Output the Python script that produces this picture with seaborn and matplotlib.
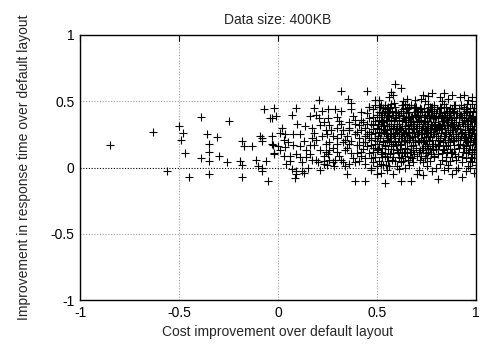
import matplotlib
matplotlib.use("Agg")
import matplotlib.pyplot as plt
import seaborn as sns
import pandas as pd

title = "Data size: 400KB"
x_label = "Cost improvement over default layout"
y_label = "Improvement in response time over default layout"
x_ticks = [-1, -0.5, 0, 0.5, 1]
x_tick_labels = ["-1", "-0.5", "0", "0.5", "1"]
y_ticks = [-1, -0.5, 0, 0.5, 1]
y_tick_labels = ["-1", "-0.5", "0", "0.5", "1"]

pts_negative = [(-0.85, 0.17), (-0.63, 0.27), (-0.56, -0.03), (-0.50, 0.31), (-0.48, 0.26), (-0.49, 0.21),
                (-0.47, 0.11), (-0.45, -0.07), (-0.39, 0.38), (-0.36, 0.25), (-0.35, 0.18), (-0.35, 0.12),
                (-0.39, 0.07), (-0.35, 0.05), (-0.35, -0.05), (-0.31, 0.23), (-0.30, 0.09), (-0.26, 0.04),
                (-0.25, 0.35), (-0.19, 0.05), (-0.18, 0.02), (-0.18, -0.07), (-0.18, 0.20), (-0.17, 0.16),
                (-0.13, 0.16), (-0.11, 0.06), (-0.10, 0.01), (-0.08, 0.00), (-0.08, -0.03), (-0.05, -0.10),
                (-0.09, 0.24), (-0.08, 0.22), (-0.08, 0.20), (-0.07, 0.44), (-0.02, 0.45), (-0.04, 0.37),
                (-0.03, 0.24), (-0.03, 0.18), (-0.01, 0.39), (-0.06, 0.05), (-0.02, 0.11), (-0.03, 0.37),
                (-0.027, 0.17)]

pts_low = [(0.09, 0.45), (0.07, 0.40), (0.205, 0.51), (0.18, 0.45), (0.22, 0.43), (0.25, 0.44), (0.16, 0.39),
           (0.205, 0.37), (0.23, 0.34), (0.094, 0.33), (0.136, 0.31), (0.17, 0.30), (0.21, 0.32), (0.18, 0.26),
           (0.17, 0.22), (0.01, 0.26), (0.036, 0.25), (0.075, 0.25), (0.03, 0.21), (0.002, 0.16), (0.035, 0.155),
           (0.075, 0.17), (0.11, 0.16), (0.16, 0.17), (0.18, 0.17), (0.21, 0.13), (0.24, 0.12), (-0.02, 0.10),
           (0.03, 0.09), (0.06, 0.09), (0.09, 0.10), (0.11, 0.08), (0.14, 0.08), (0.16, 0.10), (0.23, 0.09),
           (0.25, 0.10), (0.06, 0.05), (0.12, 0.04), (0.20, 0.04), (0.23, 0.03), (0.09, -0.03), (0.12, -0.03),
           (0.09, -0.05), (0.085, -0.08), (0.13, -0.04), (0.07, -0.01), (0.02, 0.30), (0.05, 0.19), (0.13, 0.20),
           (0.19, 0.21), (0.22, 0.24), (0.14, 0.13), (0.19, 0.06), (0.24, 0.18), (0.01, 0.13), (0.04, 0.03),
           (0.15, 0.00), (0.21, -0.02), (0.17, 0.06), (0.11, 0.25), (0.24, 0.28), (0.19, 0.40), (0.23, 0.05)]

pts_mid = [(0.32, 0.58), (0.45, 0.58), (0.355, 0.52), (0.37, 0.49), (0.49, 0.51), (0.51, 0.51), (0.29, 0.44),
           (0.32, 0.43), (0.37, 0.44), (0.46, 0.46), (0.51, 0.46), (0.255, 0.375), (0.30, 0.38), (0.38, 0.39),
           (0.42, 0.36), (0.46, 0.37), (0.26, 0.32), (0.30, 0.30), (0.32, 0.33), (0.36, 0.30), (0.39, 0.33),
           (0.41, 0.32), (0.45, 0.33), (0.48, 0.32), (0.245, 0.25), (0.28, 0.24), (0.32, 0.25), (0.35, 0.24),
           (0.39, 0.25), (0.41, 0.22), (0.44, 0.24), (0.47, 0.25), (0.49, 0.22), (0.26, 0.19), (0.30, 0.18),
           (0.33, 0.19), (0.36, 0.18), (0.40, 0.17), (0.43, 0.19), (0.47, 0.17), (0.49, 0.18), (0.26, 0.13),
           (0.30, 0.12), (0.34, 0.13), (0.37, 0.11), (0.42, 0.12), (0.46, 0.11), (0.48, 0.12), (0.245, 0.02),
           (0.28, 0.04), (0.33, 0.04), (0.36, 0.03), (0.39, 0.04), (0.44, 0.03), (0.48, 0.04), (0.285, 0.01),
           (0.35, -0.05), (0.39, -0.10), (0.44, -0.10), (0.47, -0.02), (0.50, -0.05), (0.42, 0.09), (0.31, 0.09),
           (0.42, 0.28), (0.44, 0.30), (0.46, 0.27), (0.47, 0.21), (0.48, 0.29), (0.49, 0.35), (0.50, 0.40),
           (0.45, 0.41), (0.43, 0.14), (0.45, 0.16), (0.47, 0.07), (0.48, 0.15), (0.49, 0.26), (0.50, 0.30),
           (0.50, 0.13), (0.46, 0.22), (0.44, 0.19), (0.41, 0.05), (0.38, 0.07), (0.35, 0.15), (0.33, 0.28),
           (0.31, 0.35), (0.28, 0.15), (0.27, 0.28), (0.29, 0.06), (0.34, 0.01), (0.37, 0.20), (0.40, 0.27),
           (0.42, 0.42), (0.48, 0.44), (0.49, 0.08), (0.50, 0.20), (0.50, 0.01), (0.47, 0.00), (0.44, 0.07),
           (0.43, 0.34), (0.39, 0.36), (0.36, 0.34), (0.32, 0.06), (0.30, 0.22), (0.26, 0.06), (0.46, 0.46),
           (0.48, 0.38), (0.49, 0.47), (0.47, 0.33), (0.45, 0.25), (0.41, 0.17), (0.40, 0.11), (0.36, 0.28),
           (0.34, 0.21)]

pts_band_a = [(0.51, 0.05), (0.52, 0.12), (0.53, 0.20), (0.54, 0.28), (0.55, 0.35), (0.56, 0.42), (0.57, 0.48),
              (0.58, 0.30), (0.59, 0.22), (0.52, 0.38), (0.53, 0.45), (0.51, 0.27), (0.54, 0.16), (0.55, 0.08),
              (0.56, 0.01), (0.57, 0.14), (0.58, 0.40), (0.59, 0.46), (0.60, 0.33), (0.51, 0.18), (0.52, 0.31),
              (0.53, 0.02), (0.54, 0.43), (0.55, 0.24), (0.56, 0.19), (0.57, 0.36), (0.58, 0.11), (0.59, 0.05),
              (0.60, 0.27), (0.51, 0.42), (0.52, 0.47), (0.53, 0.34), (0.54, 0.09), (0.55, 0.44), (0.56, 0.31),
              (0.57, 0.25), (0.58, 0.18), (0.59, 0.37), (0.60, 0.13), (0.515, 0.22), (0.525, 0.15), (0.535, 0.27),
              (0.545, 0.36), (0.555, 0.14), (0.565, 0.26), (0.575, 0.06), (0.585, 0.49), (0.595, 0.29),
              (0.505, 0.33), (0.545, 0.02), (0.59, 0.63), (0.62, 0.60), (0.57, 0.57), (0.56, 0.53), (0.58, 0.55),
              (0.54, -0.12), (0.52, -0.04), (0.55, -0.02), (0.58, -0.05), (0.60, 0.01), (0.565, 0.10),
              (0.585, 0.24), (0.535, 0.40), (0.525, 0.08), (0.595, 0.17), (0.555, 0.38),
              (0.503, 0.24), (0.512, 0.36), (0.518, 0.10), (0.527, 0.41), (0.532, 0.29), (0.538, 0.17),
              (0.542, 0.47), (0.548, 0.21), (0.552, 0.31), (0.558, 0.05), (0.562, 0.39), (0.568, 0.22),
              (0.572, 0.33), (0.578, 0.43), (0.582, 0.16), (0.588, 0.35), (0.592, 0.26), (0.598, 0.42),
              (0.507, 0.14), (0.522, 0.26), (0.537, 0.32), (0.553, 0.28), (0.567, 0.45), (0.583, 0.08),
              (0.597, 0.38), (0.513, 0.46), (0.528, 0.19), (0.543, 0.25), (0.557, 0.46), (0.573, 0.19),
              (0.587, 0.31), (0.509, 0.29), (0.524, 0.35), (0.539, 0.11), (0.556, 0.22), (0.571, 0.29),
              (0.589, 0.20), (0.519, 0.03), (0.549, 0.41), (0.579, 0.25)]

pts_band_b = [(0.61, 0.08), (0.62, 0.18), (0.63, 0.27), (0.64, 0.36), (0.65, 0.44), (0.66, 0.21), (0.67, 0.31),
              (0.68, 0.13), (0.69, 0.40), (0.70, 0.25), (0.61, 0.33), (0.62, 0.43), (0.63, 0.05), (0.64, 0.15),
              (0.65, 0.24), (0.66, 0.38), (0.67, 0.47), (0.68, 0.29), (0.69, 0.19), (0.70, 0.09), (0.61, 0.22),
              (0.62, 0.28), (0.63, 0.39), (0.64, 0.48), (0.65, 0.11), (0.66, 0.02), (0.67, 0.16), (0.68, 0.35),
              (0.69, 0.45), (0.70, 0.34), (0.605, 0.41), (0.615, 0.14), (0.625, 0.35), (0.635, 0.20),
              (0.645, 0.26), (0.655, 0.32), (0.665, 0.12), (0.675, 0.23), (0.685, 0.42), (0.695, 0.30),
              (0.61, -0.01), (0.64, 0.00), (0.67, -0.10), (0.62, -0.10), (0.68, 0.04), (0.70, -0.05), (0.65, 0.52),
              (0.63, 0.50), (0.69, 0.51), (0.66, 0.46), (0.615, 0.30), (0.635, 0.12), (0.655, 0.06), (0.675, 0.39),
              (0.695, 0.15), (0.64, 0.31), (0.66, 0.27), (0.68, 0.21), (0.62, 0.07), (0.70, 0.43), (0.665, 0.34),
              (0.645, 0.41), (0.625, 0.24), (0.685, 0.10), (0.605, 0.19),
              (0.603, 0.29), (0.612, 0.40), (0.618, 0.17), (0.627, 0.31), (0.632, 0.44), (0.638, 0.25),
              (0.642, 0.09), (0.648, 0.34), (0.652, 0.19), (0.658, 0.42), (0.662, 0.29), (0.668, 0.08),
              (0.672, 0.38), (0.678, 0.26), (0.682, 0.17), (0.688, 0.33), (0.692, 0.24), (0.698, 0.38),
              (0.607, 0.12), (0.622, 0.22), (0.637, 0.37), (0.653, 0.14), (0.667, 0.22), (0.683, 0.30),
              (0.697, 0.46), (0.613, 0.25), (0.628, 0.47), (0.643, 0.21), (0.657, 0.37), (0.673, 0.12),
              (0.687, 0.46), (0.609, 0.36), (0.624, 0.11), (0.639, 0.30), (0.656, 0.27), (0.671, 0.33),
              (0.689, 0.27), (0.619, 0.04), (0.649, 0.45), (0.679, 0.07)]

pts_band_c = [(0.71, 0.12), (0.72, 0.22), (0.73, 0.31), (0.74, 0.40), (0.75, 0.18), (0.76, 0.28), (0.77, 0.37),
              (0.78, 0.46), (0.79, 0.08), (0.80, 0.24), (0.71, 0.35), (0.72, 0.44), (0.73, 0.04), (0.74, 0.16),
              (0.75, 0.26), (0.76, 0.33), (0.77, 0.14), (0.78, 0.21), (0.79, 0.39), (0.80, 0.30), (0.71, 0.27),
              (0.72, 0.09), (0.73, 0.19), (0.74, 0.29), (0.75, 0.43), (0.76, 0.48), (0.77, 0.05), (0.78, 0.31),
              (0.79, 0.25), (0.80, 0.41), (0.705, 0.20), (0.715, 0.45), (0.725, 0.30), (0.735, 0.38),
              (0.745, 0.11), (0.755, 0.35), (0.765, 0.20), (0.775, 0.27), (0.785, 0.13), (0.795, 0.34),
              (0.73, 0.55), (0.72, 0.52), (0.76, 0.54), (0.78, 0.56), (0.74, 0.50), (0.71, -0.02), (0.75, 0.01),
              (0.78, -0.03), (0.80, 0.00), (0.73, -0.06), (0.765, 0.42), (0.745, 0.23), (0.725, 0.15),
              (0.785, 0.37), (0.755, 0.07), (0.795, 0.18), (0.705, 0.39), (0.775, 0.44), (0.735, 0.26),
              (0.715, 0.06), (0.79, 0.47), (0.76, 0.12), (0.74, 0.34), (0.72, 0.36), (0.77, 0.23),
              (0.703, 0.31), (0.712, 0.19), (0.718, 0.40), (0.727, 0.25), (0.732, 0.13), (0.738, 0.45),
              (0.742, 0.33), (0.748, 0.20), (0.752, 0.39), (0.758, 0.24), (0.762, 0.37), (0.768, 0.30),
              (0.772, 0.10), (0.778, 0.40), (0.782, 0.25), (0.788, 0.43), (0.792, 0.29), (0.798, 0.14),
              (0.707, 0.42), (0.722, 0.28), (0.737, 0.21), (0.753, 0.30), (0.767, 0.46), (0.783, 0.18),
              (0.797, 0.38), (0.713, 0.33), (0.728, 0.42), (0.743, 0.07), (0.757, 0.43), (0.773, 0.33),
              (0.787, 0.09), (0.709, 0.25), (0.724, 0.21), (0.739, 0.35), (0.756, 0.15), (0.771, 0.40),
              (0.789, 0.32), (0.719, 0.13), (0.749, 0.28), (0.779, 0.16)]

pts_band_d = [(0.81, 0.10), (0.82, 0.20), (0.83, 0.29), (0.84, 0.38), (0.85, 0.46), (0.86, 0.17), (0.87, 0.27),
              (0.88, 0.36), (0.89, 0.43), (0.90, 0.22), (0.81, 0.33), (0.82, 0.41), (0.83, 0.06), (0.84, 0.14),
              (0.85, 0.25), (0.86, 0.34), (0.87, 0.45), (0.88, 0.12), (0.89, 0.31), (0.90, 0.38), (0.81, 0.24),
              (0.82, 0.31), (0.83, 0.39), (0.84, 0.48), (0.85, 0.08), (0.86, 0.02), (0.87, 0.19), (0.88, 0.28),
              (0.89, 0.21), (0.90, 0.06), (0.805, 0.44), (0.815, 0.17), (0.825, 0.26), (0.835, 0.35),
              (0.845, 0.21), (0.855, 0.32), (0.865, 0.41), (0.875, 0.11), (0.885, 0.20), (0.895, 0.29),
              (0.82, 0.53), (0.84, 0.56), (0.86, 0.52), (0.88, 0.55), (0.83, 0.50), (0.81, -0.09), (0.84, -0.02),
              (0.88, -0.05), (0.86, 0.00), (0.90, -0.02), (0.82, 0.03), (0.855, 0.40), (0.835, 0.13),
              (0.875, 0.37), (0.895, 0.47), (0.815, 0.29), (0.865, 0.24), (0.845, 0.30), (0.885, 0.42),
              (0.825, 0.45), (0.87, 0.05), (0.89, 0.14), (0.85, 0.16), (0.81, 0.37), (0.88, 0.33),
              (0.803, 0.28), (0.812, 0.41), (0.818, 0.22), (0.827, 0.35), (0.832, 0.19), (0.838, 0.42),
              (0.842, 0.27), (0.848, 0.36), (0.852, 0.12), (0.858, 0.28), (0.862, 0.38), (0.868, 0.31),
              (0.872, 0.22), (0.878, 0.44), (0.882, 0.25), (0.888, 0.37), (0.892, 0.10), (0.898, 0.34),
              (0.807, 0.16), (0.822, 0.37), (0.837, 0.24), (0.853, 0.43), (0.867, 0.14), (0.883, 0.31),
              (0.897, 0.25), (0.813, 0.31), (0.828, 0.11), (0.843, 0.40), (0.857, 0.21), (0.873, 0.33),
              (0.887, 0.17), (0.809, 0.21), (0.824, 0.29), (0.839, 0.32), (0.856, 0.36), (0.871, 0.40),
              (0.889, 0.47), (0.819, 0.46), (0.849, 0.05), (0.879, 0.08)]

pts_band_e = [(0.91, 0.09), (0.92, 0.18), (0.93, 0.27), (0.94, 0.36), (0.95, 0.44), (0.96, 0.20), (0.97, 0.30),
              (0.98, 0.39), (0.99, 0.13), (1.00, 0.25), (0.91, 0.31), (0.92, 0.40), (0.93, 0.04), (0.94, 0.15),
              (0.95, 0.23), (0.96, 0.33), (0.97, 0.42), (0.98, 0.10), (0.99, 0.29), (1.00, 0.37), (0.91, 0.22),
              (0.92, 0.29), (0.93, 0.38), (0.94, 0.46), (0.95, 0.07), (0.96, 0.01), (0.97, 0.17), (0.98, 0.26),
              (0.99, 0.45), (1.00, 0.12), (0.905, 0.41), (0.915, 0.15), (0.925, 0.24), (0.935, 0.33),
              (0.945, 0.21), (0.955, 0.31), (0.965, 0.40), (0.975, 0.08), (0.985, 0.19), (0.995, 0.35),
              (0.92, 0.53), (0.94, 0.55), (0.96, 0.51), (0.98, 0.53), (0.93, -0.07), (0.95, -0.03), (0.97, 0.00),
              (0.99, -0.04), (1.00, 0.02), (0.91, 0.00), (0.955, 0.48), (0.935, 0.12), (0.975, 0.35),
              (0.995, 0.22), (0.915, 0.34), (0.965, 0.27), (0.945, 0.28), (0.985, 0.43), (0.925, 0.47),
              (0.97, 0.05), (0.99, 0.07), (0.95, 0.16), (0.98, 0.48), (1.00, 0.31), (0.96, 0.12),
              (0.903, 0.30), (0.912, 0.38), (0.918, 0.21), (0.927, 0.34), (0.932, 0.17), (0.938, 0.41),
              (0.942, 0.25), (0.948, 0.37), (0.952, 0.11), (0.958, 0.27), (0.962, 0.36), (0.968, 0.22),
              (0.972, 0.45), (0.978, 0.31), (0.982, 0.14), (0.988, 0.34), (0.992, 0.26), (0.998, 0.42),
              (0.907, 0.17), (0.922, 0.26), (0.937, 0.44), (0.953, 0.35), (0.967, 0.13), (0.983, 0.28),
              (0.997, 0.18), (0.913, 0.45), (0.928, 0.08), (0.943, 0.31), (0.957, 0.42), (0.973, 0.24),
              (0.987, 0.38), (0.909, 0.24), (0.924, 0.40), (0.939, 0.22), (0.956, 0.19), (0.971, 0.35),
              (0.989, 0.21), (0.919, 0.29), (0.949, 0.43), (0.979, 0.04)]

all_pts = pts_negative + pts_low + pts_mid + pts_band_a + pts_band_b + pts_band_c + pts_band_d + pts_band_e
df = pd.DataFrame(all_pts, columns=["cost", "resp"])

sns.set_theme(style="white")
plt.rcParams["font.family"] = ["Liberation Sans", "DejaVu Sans"]

fig = plt.figure(figsize=(4.82, 3.45), dpi=100)
ax = fig.add_axes([80 / 482, 45 / 345, 396 / 482, 265 / 345])

for v in [-0.5, 0, 0.5]:
    ax.axvline(v, color="#a0a0a0", linestyle=(0, (1, 1.5)), linewidth=0.8, zorder=0)
for v in [-0.5, 0.5]:
    ax.axhline(v, color="#a0a0a0", linestyle=(0, (1, 1.5)), linewidth=0.8, zorder=0)
ax.axhline(0, color="black", linestyle=(0, (1, 1.5)), linewidth=0.8, zorder=0)

sns.scatterplot(data=df, x="cost", y="resp", marker="+", color="black", s=38, linewidth=0.8, ax=ax,
                legend=False, zorder=3)

ax.set_xlim(-1, 1)
ax.set_ylim(-1, 1)
ax.set_xticks(x_ticks)
ax.set_xticklabels(x_tick_labels)
ax.set_yticks(y_ticks)
ax.set_yticklabels(y_tick_labels)
ax.tick_params(direction="in", length=4, width=0.8, labelsize=10, colors="black", top=True, right=True,
               pad=4)
for sp in ax.spines.values():
    sp.set_color("black")
    sp.set_linewidth(1.0)
ax.set_xlabel(x_label, fontsize=10, labelpad=4)
ax.set_ylabel(y_label, fontsize=10, labelpad=14)
ax.set_title(title, fontsize=10, pad=8)

fig.savefig("out.png", dpi=100)
